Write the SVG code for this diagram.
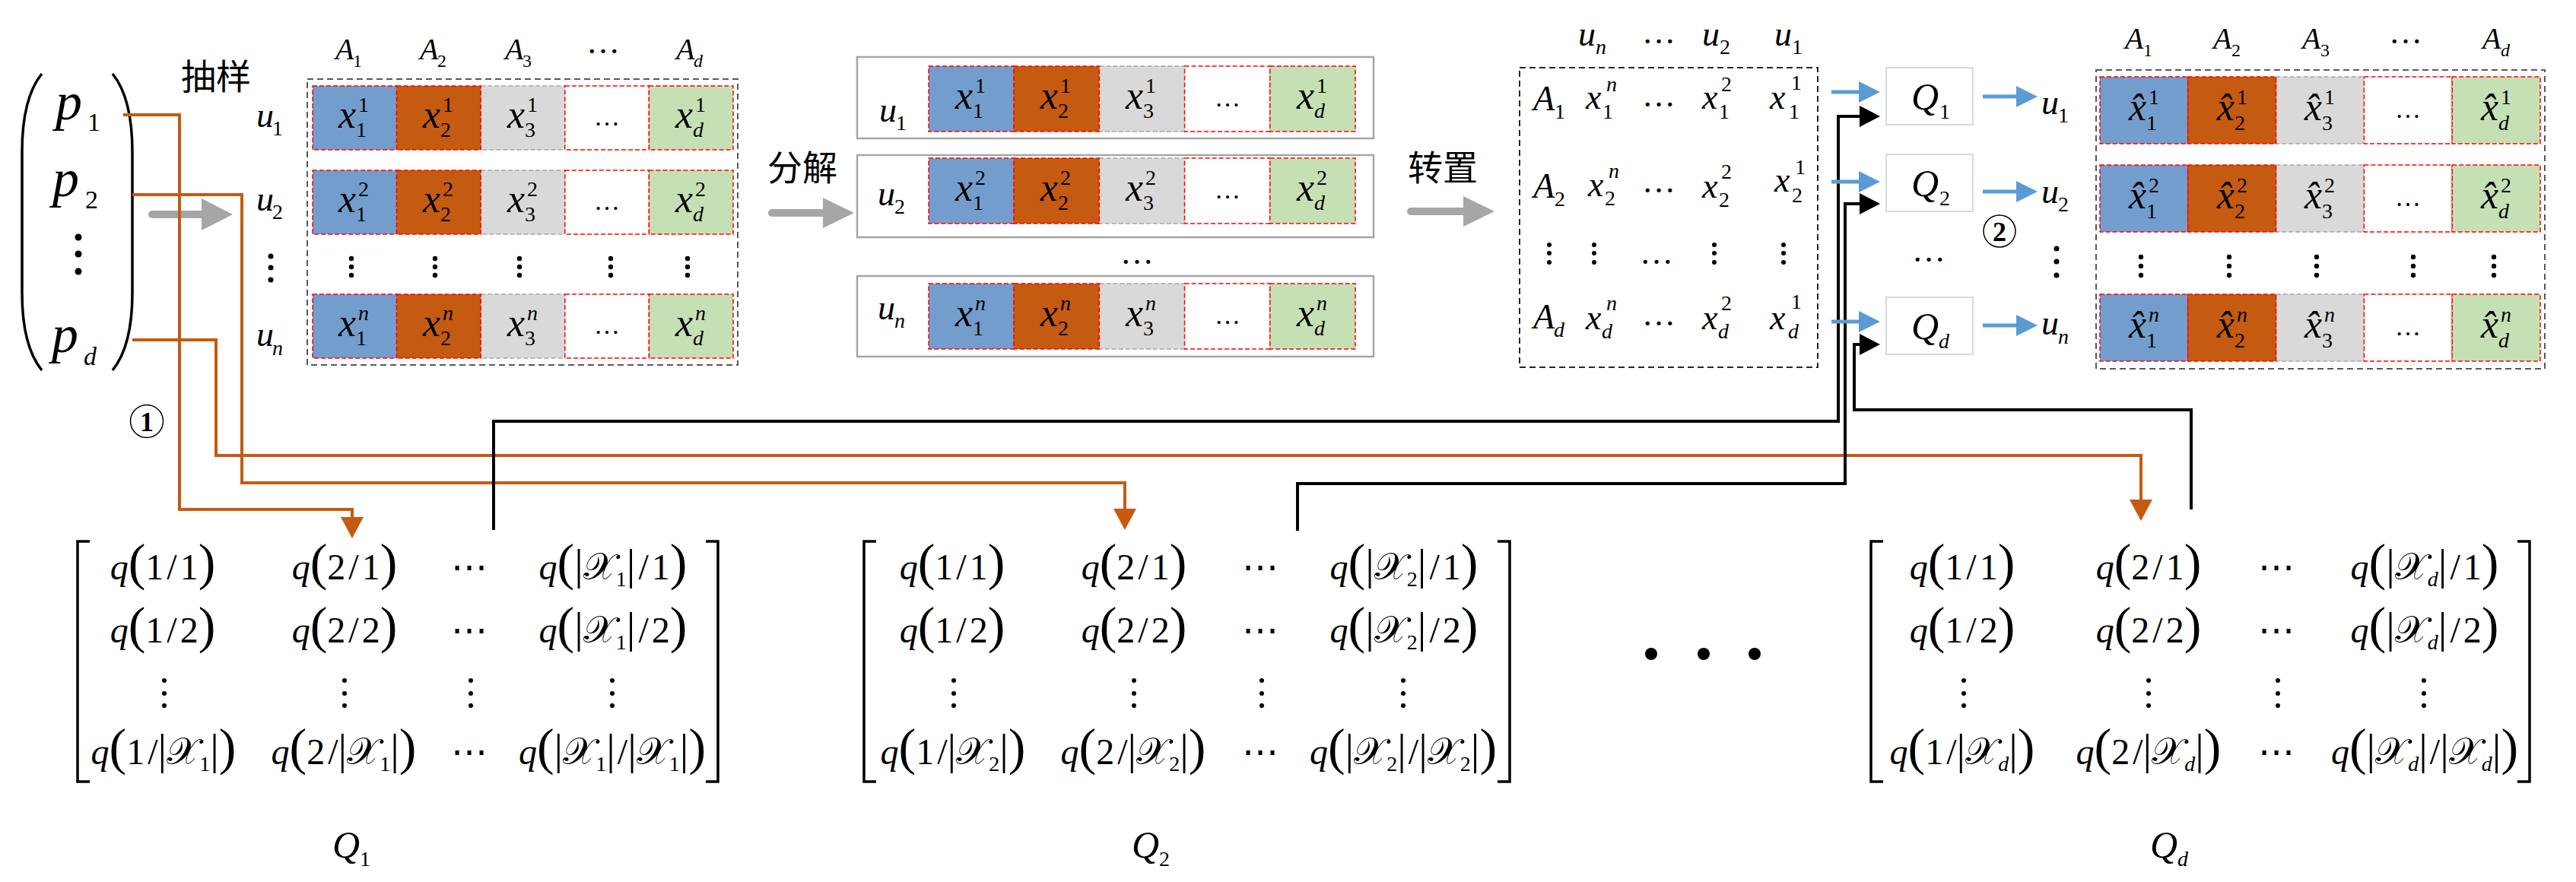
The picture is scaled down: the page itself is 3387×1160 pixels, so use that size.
<svg xmlns="http://www.w3.org/2000/svg" width="3387" height="1160" viewBox="0 0 3387 1160">
<style>
text{font-family:"Liberation Serif","Times New Roman",serif;fill:#000}
.i{font-style:italic}
.cjk{font-family:"Noto Sans CJK SC","Noto Sans CJK JP",sans-serif;font-size:46px}
.v{font-size:52px;font-style:italic}
.v2{font-size:46px;font-style:italic}
.s{font-size:28px}
.si{font-size:28px;font-style:italic}
.u{font-size:46px;font-style:italic}
.hd{font-size:40px;font-style:italic}
.hs{font-size:24px}
.hsi{font-size:24px;font-style:italic}
.el{font-size:34px;text-anchor:middle}
.el2{font-size:44px;text-anchor:middle}
.cb{fill:#739DCD;stroke:#FF0000;stroke-width:1.5;stroke-dasharray:6 3}
.co{fill:#C55A11;stroke:#FF0000;stroke-width:1.5;stroke-dasharray:6 3}
.cg{fill:#D9D9D9;stroke:#A6A6A6;stroke-width:1.5;stroke-dasharray:6 3}
.cw{fill:#FFFFFF;stroke:#FF0000;stroke-width:1.5;stroke-dasharray:6 3}
.cn{fill:#C5E0B4;stroke:#FF0000;stroke-width:1.5;stroke-dasharray:6 3}
.ob{fill:none;stroke:#595959;stroke-width:2;stroke-dasharray:8 5}
.ob2{fill:none;stroke:#262626;stroke-width:2;stroke-dasharray:8 5}
.gb{fill:#FFFFFF;stroke:#A6A6A6;stroke-width:2.5}
.qb{fill:#FFFFFF;stroke:#D9D9D9;stroke-width:2}
.qi{font-size:50px;font-style:italic}
.m{font-size:48px;text-anchor:middle}
.pa{font-size:68px}
.br{font-size:58px}
.sx{font-size:50px;font-family:"DejaVu Serif","DejaVu Sans","Noto Sans",serif}
.sb{font-size:28px}
.sbi{font-size:28px;font-style:italic}
.bk{fill:none;stroke:#000;stroke-width:3.5}
.lo{fill:none;stroke:#C55A11;stroke-width:4}
.lk{fill:none;stroke:#000;stroke-width:4}
.lb{fill:none;stroke:#5B9BD5;stroke-width:5}
.ga{fill:none;stroke:#A6A6A6;stroke-width:10;stroke-linecap:round}
.gh{fill:#A6A6A6}
.circ{fill:none;stroke:#000;stroke-width:1.5}
.num{font-size:36px;font-weight:bold;text-anchor:middle}
</style>
<defs>
<marker id="ao" markerUnits="userSpaceOnUse" markerWidth="28" markerHeight="30" refX="1" refY="15" orient="auto" viewBox="0 0 28 30"><path d="M0,0L28,15L0,30z" fill="#C55A11"/></marker>
<marker id="ab" markerUnits="userSpaceOnUse" markerWidth="28" markerHeight="28" refX="1" refY="14" orient="auto" viewBox="0 0 28 28"><path d="M0,0L28,14L0,28z" fill="#5B9BD5"/></marker>
<marker id="ak" markerUnits="userSpaceOnUse" markerWidth="27" markerHeight="28" refX="1" refY="14" orient="auto" viewBox="0 0 27 28"><path d="M0,0L27,14L0,28z" fill="#000"/></marker>
</defs>

<!-- input vector p -->
<g id="vector-p">
<path class="bk" d="M55 97 C38 118 29 150 29 200 V385 C29 435 38 466 55 487"/>
<path class="bk" d="M148 97 C165 118 174 150 174 200 V385 C174 435 165 466 148 487"/>
<text><tspan class="i" font-size="70" x="73" y="157">p</tspan><tspan font-size="34" x="115" y="172">1</tspan></text>
<text><tspan class="i" font-size="70" x="69" y="258">p</tspan><tspan font-size="34" x="112" y="274">2</tspan></text>
<circle cx="103" cy="312" r="4.5"/><circle cx="103" cy="334" r="4.5"/><circle cx="103" cy="357" r="4.5"/>
<text><tspan class="i" font-size="70" x="68" y="463">p</tspan><tspan class="i" font-size="34" x="110" y="480">d</tspan></text>
</g>

<g id="label-sampling"><text class="cjk" x="238" y="117">抽样</text></g>
<g id="label-decompose"><text class="cjk" x="1009" y="237">分解</text></g>
<g id="label-transpose"><text class="cjk" x="1851" y="237">转置</text></g>

<!-- matrix 1 -->
<g id="matrix-sampled">
<rect class="ob" x="404" y="104" width="566" height="376"/>
<text><tspan class="hd" x="441" y="78">A</tspan><tspan class="hs" x="464" y="88">1</tspan></text>
<text><tspan class="hd" x="552" y="78">A</tspan><tspan class="hs" x="575" y="88">2</tspan></text>
<text><tspan class="hd" x="664" y="78">A</tspan><tspan class="hs" x="687" y="88">3</tspan></text>
<text class="el2" x="793" y="70" font-size="40">…</text>
<text><tspan class="hd" x="889" y="78">A</tspan><tspan class="hsi" x="912" y="88">d</tspan></text>
<text><tspan class="u" x="337" y="167">u</tspan><tspan class="s" x="358" y="178">1</tspan></text>
<text><tspan class="u" x="337" y="277">u</tspan><tspan class="s" x="358" y="288">2</tspan></text>
<circle cx="356" cy="337" r="3.5"/><circle cx="356" cy="352" r="3.5"/><circle cx="356" cy="368" r="3.5"/>
<text><tspan class="u" x="337" y="455">u</tspan><tspan class="si" x="358" y="467">n</tspan></text>
<rect class="cg" x="632.2" y="113" width="110.6" height="84"/>
<rect class="cb" x="411" y="113" width="110.6" height="84"/>
<rect class="co" x="521.6" y="113" width="110.6" height="84"/>
<rect class="cw" x="742.8" y="113" width="110.6" height="84"/>
<rect class="cn" x="853.4" y="113" width="110.6" height="84"/>
<text><tspan class="v" x="445" y="168">x</tspan><tspan class="s" x="471" y="147">1</tspan><tspan class="s" x="468" y="180">1</tspan></text>
<text><tspan class="v" x="556" y="168">x</tspan><tspan class="s" x="582" y="147">1</tspan><tspan class="s" x="579" y="180">2</tspan></text>
<text><tspan class="v" x="667" y="168">x</tspan><tspan class="s" x="693" y="147">1</tspan><tspan class="s" x="690" y="180">3</tspan></text>
<text class="el" x="798" y="165">…</text>
<text><tspan class="v" x="888" y="168">x</tspan><tspan class="s" x="914" y="147">1</tspan><tspan class="si" x="911" y="180">d</tspan></text>
<rect class="cg" x="632.2" y="224" width="110.6" height="84"/>
<rect class="cb" x="411" y="224" width="110.6" height="84"/>
<rect class="co" x="521.6" y="224" width="110.6" height="84"/>
<rect class="cw" x="742.8" y="224" width="110.6" height="84"/>
<rect class="cn" x="853.4" y="224" width="110.6" height="84"/>
<text><tspan class="v" x="445" y="279">x</tspan><tspan class="s" x="471" y="258">2</tspan><tspan class="s" x="468" y="291">1</tspan></text>
<text><tspan class="v" x="556" y="279">x</tspan><tspan class="s" x="582" y="258">2</tspan><tspan class="s" x="579" y="291">2</tspan></text>
<text><tspan class="v" x="667" y="279">x</tspan><tspan class="s" x="693" y="258">2</tspan><tspan class="s" x="690" y="291">3</tspan></text>
<text class="el" x="798" y="276">…</text>
<text><tspan class="v" x="888" y="279">x</tspan><tspan class="s" x="914" y="258">2</tspan><tspan class="si" x="911" y="291">d</tspan></text>
<circle cx="462" cy="340" r="3.2"/><circle cx="462" cy="351" r="3.2"/><circle cx="462" cy="362" r="3.2"/>
<circle cx="572" cy="340" r="3.2"/><circle cx="572" cy="351" r="3.2"/><circle cx="572" cy="362" r="3.2"/>
<circle cx="683" cy="340" r="3.2"/><circle cx="683" cy="351" r="3.2"/><circle cx="683" cy="362" r="3.2"/>
<circle cx="803" cy="340" r="3.2"/><circle cx="803" cy="351" r="3.2"/><circle cx="803" cy="362" r="3.2"/>
<circle cx="904" cy="340" r="3.2"/><circle cx="904" cy="351" r="3.2"/><circle cx="904" cy="362" r="3.2"/>
<rect class="cg" x="632.2" y="387" width="110.6" height="84"/>
<rect class="cb" x="411" y="387" width="110.6" height="84"/>
<rect class="co" x="521.6" y="387" width="110.6" height="84"/>
<rect class="cw" x="742.8" y="387" width="110.6" height="84"/>
<rect class="cn" x="853.4" y="387" width="110.6" height="84"/>
<text><tspan class="v" x="445" y="442">x</tspan><tspan class="si" x="471" y="421">n</tspan><tspan class="s" x="468" y="454">1</tspan></text>
<text><tspan class="v" x="556" y="442">x</tspan><tspan class="si" x="582" y="421">n</tspan><tspan class="s" x="579" y="454">2</tspan></text>
<text><tspan class="v" x="667" y="442">x</tspan><tspan class="si" x="693" y="421">n</tspan><tspan class="s" x="690" y="454">3</tspan></text>
<text class="el" x="798" y="439">…</text>
<text><tspan class="v" x="888" y="442">x</tspan><tspan class="si" x="914" y="421">n</tspan><tspan class="si" x="911" y="454">d</tspan></text>
</g>

<!-- decomposed rows -->
<g id="row-u1">
<rect class="gb" x="1127" y="75" width="679" height="107"/>
<text><tspan class="u" x="1156" y="160">u</tspan><tspan class="s" x="1178" y="171">1</tspan></text>
<rect class="cg" x="1445.4" y="87" width="112.2" height="86"/>
<rect class="cb" x="1221" y="87" width="112.2" height="86"/>
<rect class="co" x="1333.2" y="87" width="112.2" height="86"/>
<rect class="cw" x="1557.6" y="87" width="112.2" height="86"/>
<rect class="cn" x="1669.8" y="87" width="112.2" height="86"/>
<text><tspan class="v" x="1256" y="143">x</tspan><tspan class="s" x="1282" y="122">1</tspan><tspan class="s" x="1279" y="155">1</tspan></text>
<text><tspan class="v" x="1368" y="143">x</tspan><tspan class="s" x="1394" y="122">1</tspan><tspan class="s" x="1391" y="155">2</tspan></text>
<text><tspan class="v" x="1480" y="143">x</tspan><tspan class="s" x="1506" y="122">1</tspan><tspan class="s" x="1503" y="155">3</tspan></text>
<text class="el" x="1614" y="140">…</text>
<text><tspan class="v" x="1705" y="143">x</tspan><tspan class="s" x="1731" y="122">1</tspan><tspan class="si" x="1728" y="155">d</tspan></text>
</g>
<g id="row-u2">
<rect class="gb" x="1127" y="204" width="679" height="108"/>
<text><tspan class="u" x="1154" y="270">u</tspan><tspan class="s" x="1176" y="281">2</tspan></text>
<rect class="cg" x="1445.4" y="208" width="112.2" height="86"/>
<rect class="cb" x="1221" y="208" width="112.2" height="86"/>
<rect class="co" x="1333.2" y="208" width="112.2" height="86"/>
<rect class="cw" x="1557.6" y="208" width="112.2" height="86"/>
<rect class="cn" x="1669.8" y="208" width="112.2" height="86"/>
<text><tspan class="v" x="1256" y="264">x</tspan><tspan class="s" x="1282" y="243">2</tspan><tspan class="s" x="1279" y="276">1</tspan></text>
<text><tspan class="v" x="1368" y="264">x</tspan><tspan class="s" x="1394" y="243">2</tspan><tspan class="s" x="1391" y="276">2</tspan></text>
<text><tspan class="v" x="1480" y="264">x</tspan><tspan class="s" x="1506" y="243">2</tspan><tspan class="s" x="1503" y="276">3</tspan></text>
<text class="el" x="1614" y="261">…</text>
<text><tspan class="v" x="1705" y="264">x</tspan><tspan class="s" x="1731" y="243">2</tspan><tspan class="si" x="1728" y="276">d</tspan></text>
</g>
<text class="el2" x="1495" y="347" font-size="46">…</text>
<g id="row-un">
<rect class="gb" x="1127" y="363" width="679" height="106"/>
<text><tspan class="u" x="1154" y="420">u</tspan><tspan class="si" x="1176" y="431">n</tspan></text>
<rect class="cg" x="1445.4" y="373" width="112.2" height="86"/>
<rect class="cb" x="1221" y="373" width="112.2" height="86"/>
<rect class="co" x="1333.2" y="373" width="112.2" height="86"/>
<rect class="cw" x="1557.6" y="373" width="112.2" height="86"/>
<rect class="cn" x="1669.8" y="373" width="112.2" height="86"/>
<text><tspan class="v" x="1256" y="429">x</tspan><tspan class="si" x="1282" y="408">n</tspan><tspan class="s" x="1279" y="441">1</tspan></text>
<text><tspan class="v" x="1368" y="429">x</tspan><tspan class="si" x="1394" y="408">n</tspan><tspan class="s" x="1391" y="441">2</tspan></text>
<text><tspan class="v" x="1480" y="429">x</tspan><tspan class="si" x="1506" y="408">n</tspan><tspan class="s" x="1503" y="441">3</tspan></text>
<text class="el" x="1614" y="426">…</text>
<text><tspan class="v" x="1705" y="429">x</tspan><tspan class="si" x="1731" y="408">n</tspan><tspan class="si" x="1728" y="441">d</tspan></text>
</g>

<!-- transposed matrix -->
<g id="matrix-transposed">
<rect class="ob2" x="1998" y="89" width="392" height="394"/>
<text><tspan class="u" x="2075" y="60">u</tspan><tspan class="si" x="2098" y="71">n</tspan></text>
<text class="el2" x="2181" y="57">…</text>
<text><tspan class="u" x="2238" y="60">u</tspan><tspan class="s" x="2261" y="71">2</tspan></text>
<text><tspan class="u" x="2333" y="60">u</tspan><tspan class="s" x="2356" y="71">1</tspan></text>
<text><tspan class="v2" x="2016" y="145">A</tspan><tspan class="s" x="2044" y="156">1</tspan></text>
<text><tspan class="v2" x="2085" y="143">x</tspan><tspan class="si" x="2112" y="120">n</tspan><tspan class="s" x="2107" y="156">1</tspan></text>
<text class="el2" x="2181" y="140">…</text>
<text><tspan class="v2" x="2238" y="143">x</tspan><tspan class="s" x="2263" y="120">2</tspan><tspan class="s" x="2260" y="156">1</tspan></text>
<text><tspan class="v2" x="2327" y="143">x</tspan><tspan class="s" x="2355" y="118">1</tspan><tspan class="s" x="2352" y="156">1</tspan></text>
<text><tspan class="v2" x="2016" y="260">A</tspan><tspan class="s" x="2044" y="271">2</tspan></text>
<text><tspan class="v2" x="2088" y="258">x</tspan><tspan class="si" x="2115" y="234">n</tspan><tspan class="s" x="2110" y="270">2</tspan></text>
<text class="el2" x="2181" y="253">…</text>
<text><tspan class="v2" x="2238" y="260">x</tspan><tspan class="s" x="2263" y="235">2</tspan><tspan class="s" x="2260" y="272">2</tspan></text>
<text><tspan class="v2" x="2333" y="252">x</tspan><tspan class="s" x="2360" y="229">1</tspan><tspan class="s" x="2356" y="266">2</tspan></text>
<circle cx="2037" cy="322" r="3"/><circle cx="2037" cy="333" r="3"/><circle cx="2037" cy="345" r="3"/>
<circle cx="2096" cy="322" r="3"/><circle cx="2096" cy="333" r="3"/><circle cx="2096" cy="345" r="3"/>
<text class="el2" x="2178" y="347">…</text>
<circle cx="2254" cy="322" r="3"/><circle cx="2254" cy="333" r="3"/><circle cx="2254" cy="345" r="3"/>
<circle cx="2345" cy="322" r="3"/><circle cx="2345" cy="333" r="3"/><circle cx="2345" cy="345" r="3"/>
<text><tspan class="v2" x="2016" y="432">A</tspan><tspan class="si" x="2043" y="443">d</tspan></text>
<text><tspan class="v2" x="2085" y="433">x</tspan><tspan class="si" x="2112" y="408">n</tspan><tspan class="si" x="2106" y="445">d</tspan></text>
<text class="el2" x="2181" y="428">…</text>
<text><tspan class="v2" x="2238" y="433">x</tspan><tspan class="s" x="2263" y="408">2</tspan><tspan class="si" x="2259" y="445">d</tspan></text>
<text><tspan class="v2" x="2327" y="433">x</tspan><tspan class="s" x="2355" y="406">1</tspan><tspan class="si" x="2351" y="445">d</tspan></text>
</g>

<!-- Q boxes -->
<g id="box-Q1"><rect class="qb" x="2480" y="89" width="114" height="75"/><text><tspan class="qi" x="2513" y="144">Q</tspan><tspan class="s" x="2550" y="156">1</tspan></text></g>
<g id="box-Q2"><rect class="qb" x="2480" y="203" width="114" height="75"/><text><tspan class="qi" x="2513" y="258">Q</tspan><tspan class="s" x="2550" y="270">2</tspan></text></g>
<text class="el2" x="2536" y="344">…</text>
<g id="box-Qd"><rect class="qb" x="2480" y="391" width="114" height="75"/><text><tspan class="qi" x="2513" y="446">Q</tspan><tspan class="si" x="2549" y="458">d</tspan></text></g>

<g id="out-labels">
<text><tspan class="u" x="2684" y="150">u</tspan><tspan class="s" x="2706" y="161">1</tspan></text>
<text><tspan class="u" x="2684" y="267">u</tspan><tspan class="s" x="2706" y="278">2</tspan></text>
<circle cx="2704" cy="327" r="3.5"/><circle cx="2704" cy="344" r="3.5"/><circle cx="2704" cy="362" r="3.5"/>
<text><tspan class="u" x="2684" y="440">u</tspan><tspan class="si" x="2706" y="452">n</tspan></text>
</g>
<g id="step-2"><circle class="circ" cx="2629" cy="304" r="21"/><text class="num" x="2629" y="317">2</text></g>
<g id="step-1"><circle class="circ" cx="193" cy="554" r="21.5"/><text class="num" x="193" y="567">1</text></g>

<!-- output matrix -->
<g id="matrix-output">
<rect class="ob" x="2756" y="92" width="590" height="393"/>
<text><tspan class="hd" x="2794" y="64">A</tspan><tspan class="hs" x="2818" y="74">1</tspan></text>
<text><tspan class="hd" x="2910" y="64">A</tspan><tspan class="hs" x="2934" y="74">2</tspan></text>
<text><tspan class="hd" x="3027" y="64">A</tspan><tspan class="hs" x="3051" y="74">3</tspan></text>
<text class="el2" x="3163" y="57" font-size="40">…</text>
<text><tspan class="hd" x="3264" y="64">A</tspan><tspan class="hsi" x="3288" y="74">d</tspan></text>
<rect class="cg" x="2992.6" y="101" width="115.8" height="88"/>
<rect class="cb" x="2761" y="101" width="115.8" height="88"/>
<rect class="co" x="2876.8" y="101" width="115.8" height="88"/>
<rect class="cw" x="3108.4" y="101" width="115.8" height="88"/>
<rect class="cn" x="3224.2" y="101" width="115.8" height="88"/>
<text><tspan class="v" x="2799" y="158">x̂</tspan><tspan class="s" x="2825" y="137">1</tspan><tspan class="s" x="2822" y="171">1</tspan></text>
<text><tspan class="v" x="2915" y="158">x̂</tspan><tspan class="s" x="2941" y="137">1</tspan><tspan class="s" x="2938" y="171">2</tspan></text>
<text><tspan class="v" x="3030" y="158">x̂</tspan><tspan class="s" x="3056" y="137">1</tspan><tspan class="s" x="3053" y="171">3</tspan></text>
<text class="el" x="3166" y="155">…</text>
<text><tspan class="v" x="3262" y="158">x̂</tspan><tspan class="s" x="3288" y="137">1</tspan><tspan class="si" x="3285" y="171">d</tspan></text>
<rect class="cg" x="2992.6" y="217" width="115.8" height="88"/>
<rect class="cb" x="2761" y="217" width="115.8" height="88"/>
<rect class="co" x="2876.8" y="217" width="115.8" height="88"/>
<rect class="cw" x="3108.4" y="217" width="115.8" height="88"/>
<rect class="cn" x="3224.2" y="217" width="115.8" height="88"/>
<text><tspan class="v" x="2799" y="274">x̂</tspan><tspan class="s" x="2825" y="253">2</tspan><tspan class="s" x="2822" y="287">1</tspan></text>
<text><tspan class="v" x="2915" y="274">x̂</tspan><tspan class="s" x="2941" y="253">2</tspan><tspan class="s" x="2938" y="287">2</tspan></text>
<text><tspan class="v" x="3030" y="274">x̂</tspan><tspan class="s" x="3056" y="253">2</tspan><tspan class="s" x="3053" y="287">3</tspan></text>
<text class="el" x="3166" y="271">…</text>
<text><tspan class="v" x="3262" y="274">x̂</tspan><tspan class="s" x="3288" y="253">2</tspan><tspan class="si" x="3285" y="287">d</tspan></text>
<circle cx="2815" cy="338" r="3.2"/><circle cx="2815" cy="350" r="3.2"/><circle cx="2815" cy="362" r="3.2"/>
<circle cx="2931" cy="338" r="3.2"/><circle cx="2931" cy="350" r="3.2"/><circle cx="2931" cy="362" r="3.2"/>
<circle cx="3046" cy="338" r="3.2"/><circle cx="3046" cy="350" r="3.2"/><circle cx="3046" cy="362" r="3.2"/>
<circle cx="3173" cy="338" r="3.2"/><circle cx="3173" cy="350" r="3.2"/><circle cx="3173" cy="362" r="3.2"/>
<circle cx="3279" cy="338" r="3.2"/><circle cx="3279" cy="350" r="3.2"/><circle cx="3279" cy="362" r="3.2"/>
<rect class="cg" x="2992.6" y="387" width="115.8" height="88"/>
<rect class="cb" x="2761" y="387" width="115.8" height="88"/>
<rect class="co" x="2876.8" y="387" width="115.8" height="88"/>
<rect class="cw" x="3108.4" y="387" width="115.8" height="88"/>
<rect class="cn" x="3224.2" y="387" width="115.8" height="88"/>
<text><tspan class="v" x="2799" y="444">x̂</tspan><tspan class="si" x="2825" y="423">n</tspan><tspan class="s" x="2822" y="457">1</tspan></text>
<text><tspan class="v" x="2915" y="444">x̂</tspan><tspan class="si" x="2941" y="423">n</tspan><tspan class="s" x="2938" y="457">2</tspan></text>
<text><tspan class="v" x="3030" y="444">x̂</tspan><tspan class="si" x="3056" y="423">n</tspan><tspan class="s" x="3053" y="457">3</tspan></text>
<text class="el" x="3166" y="441">…</text>
<text><tspan class="v" x="3262" y="444">x̂</tspan><tspan class="si" x="3288" y="423">n</tspan><tspan class="si" x="3285" y="457">d</tspan></text>
</g>

<!-- bottom matrices -->
<g id="matrix-Q1">
<path class="bk" d="M118 712 H102 V1028 H118"/>
<path class="bk" d="M928 712 H944 V1028 H928"/>
<text class="m" x="214" y="762"><tspan class="i">q</tspan><tspan class="pa">(</tspan>1<tspan dx="4">/</tspan><tspan dx="4">1</tspan><tspan class="pa">)</tspan></text>
<text class="m" x="453" y="762"><tspan class="i">q</tspan><tspan class="pa">(</tspan>2<tspan dx="4">/</tspan><tspan dx="4">1</tspan><tspan class="pa">)</tspan></text>
<text class="m" x="617" y="762">⋯</text>
<text class="m" x="806" y="762"><tspan class="i">q</tspan><tspan class="pa">(</tspan><tspan class="br">|</tspan><tspan class="sx">𝒳</tspan><tspan class="sb" dy="9">1</tspan><tspan class="br" dy="-9">|</tspan><tspan dx="4">/</tspan><tspan dx="4">1</tspan><tspan class="pa">)</tspan></text>
<text class="m" x="214" y="845"><tspan class="i">q</tspan><tspan class="pa">(</tspan>1<tspan dx="4">/</tspan><tspan dx="4">2</tspan><tspan class="pa">)</tspan></text>
<text class="m" x="453" y="845"><tspan class="i">q</tspan><tspan class="pa">(</tspan>2<tspan dx="4">/</tspan><tspan dx="4">2</tspan><tspan class="pa">)</tspan></text>
<text class="m" x="617" y="845">⋯</text>
<text class="m" x="806" y="845"><tspan class="i">q</tspan><tspan class="pa">(</tspan><tspan class="br">|</tspan><tspan class="sx">𝒳</tspan><tspan class="sb" dy="9">1</tspan><tspan class="br" dy="-9">|</tspan><tspan dx="4">/</tspan><tspan dx="4">2</tspan><tspan class="pa">)</tspan></text>
<circle cx="216" cy="895" r="3"/><circle cx="216" cy="912" r="3"/><circle cx="216" cy="928" r="3"/>
<circle cx="453" cy="895" r="3"/><circle cx="453" cy="912" r="3"/><circle cx="453" cy="928" r="3"/>
<circle cx="619" cy="895" r="3"/><circle cx="619" cy="912" r="3"/><circle cx="619" cy="928" r="3"/>
<circle cx="805" cy="895" r="3"/><circle cx="805" cy="912" r="3"/><circle cx="805" cy="928" r="3"/>
<text class="m" x="215" y="1005"><tspan class="i">q</tspan><tspan class="pa">(</tspan>1<tspan dx="4">/</tspan><tspan class="br">|</tspan><tspan class="sx">𝒳</tspan><tspan class="sb" dy="9">1</tspan><tspan class="br" dy="-9">|</tspan><tspan class="pa">)</tspan></text>
<text class="m" x="452" y="1005"><tspan class="i">q</tspan><tspan class="pa">(</tspan>2<tspan dx="4">/</tspan><tspan class="br">|</tspan><tspan class="sx">𝒳</tspan><tspan class="sb" dy="9">1</tspan><tspan class="br" dy="-9">|</tspan><tspan class="pa">)</tspan></text>
<text class="m" x="617" y="1005">⋯</text>
<text class="m" x="805" y="1005"><tspan class="i">q</tspan><tspan class="pa">(</tspan><tspan class="br">|</tspan><tspan class="sx">𝒳</tspan><tspan class="sb" dy="9">1</tspan><tspan class="br" dy="-9">|</tspan><tspan dx="3">/</tspan><tspan class="br">|</tspan><tspan class="sx">𝒳</tspan><tspan class="sb" dy="9">1</tspan><tspan class="br" dy="-9">|</tspan><tspan class="pa">)</tspan></text>
<text x="462" y="1128" text-anchor="middle"><tspan class="qi">Q</tspan><tspan class="s" dy="11">1</tspan></text>
</g>

<g id="matrix-Q2">
<path class="bk" d="M1152 712 H1136 V1028 H1152"/>
<path class="bk" d="M1969 712 H1985 V1028 H1969"/>
<text class="m" x="1252" y="762"><tspan class="i">q</tspan><tspan class="pa">(</tspan>1<tspan dx="4">/</tspan><tspan dx="4">1</tspan><tspan class="pa">)</tspan></text>
<text class="m" x="1491" y="762"><tspan class="i">q</tspan><tspan class="pa">(</tspan>2<tspan dx="4">/</tspan><tspan dx="4">1</tspan><tspan class="pa">)</tspan></text>
<text class="m" x="1657" y="762">⋯</text>
<text class="m" x="1846" y="762"><tspan class="i">q</tspan><tspan class="pa">(</tspan><tspan class="br">|</tspan><tspan class="sx">𝒳</tspan><tspan class="sb" dy="9">2</tspan><tspan class="br" dy="-9">|</tspan><tspan dx="4">/</tspan><tspan dx="4">1</tspan><tspan class="pa">)</tspan></text>
<text class="m" x="1252" y="845"><tspan class="i">q</tspan><tspan class="pa">(</tspan>1<tspan dx="4">/</tspan><tspan dx="4">2</tspan><tspan class="pa">)</tspan></text>
<text class="m" x="1491" y="845"><tspan class="i">q</tspan><tspan class="pa">(</tspan>2<tspan dx="4">/</tspan><tspan dx="4">2</tspan><tspan class="pa">)</tspan></text>
<text class="m" x="1657" y="845">⋯</text>
<text class="m" x="1846" y="845"><tspan class="i">q</tspan><tspan class="pa">(</tspan><tspan class="br">|</tspan><tspan class="sx">𝒳</tspan><tspan class="sb" dy="9">2</tspan><tspan class="br" dy="-9">|</tspan><tspan dx="4">/</tspan><tspan dx="4">2</tspan><tspan class="pa">)</tspan></text>
<circle cx="1254" cy="895" r="3"/><circle cx="1254" cy="912" r="3"/><circle cx="1254" cy="928" r="3"/>
<circle cx="1491" cy="895" r="3"/><circle cx="1491" cy="912" r="3"/><circle cx="1491" cy="928" r="3"/>
<circle cx="1659" cy="895" r="3"/><circle cx="1659" cy="912" r="3"/><circle cx="1659" cy="928" r="3"/>
<circle cx="1845" cy="895" r="3"/><circle cx="1845" cy="912" r="3"/><circle cx="1845" cy="928" r="3"/>
<text class="m" x="1253" y="1005"><tspan class="i">q</tspan><tspan class="pa">(</tspan>1<tspan dx="4">/</tspan><tspan class="br">|</tspan><tspan class="sx">𝒳</tspan><tspan class="sb" dy="9">2</tspan><tspan class="br" dy="-9">|</tspan><tspan class="pa">)</tspan></text>
<text class="m" x="1490" y="1005"><tspan class="i">q</tspan><tspan class="pa">(</tspan>2<tspan dx="4">/</tspan><tspan class="br">|</tspan><tspan class="sx">𝒳</tspan><tspan class="sb" dy="9">2</tspan><tspan class="br" dy="-9">|</tspan><tspan class="pa">)</tspan></text>
<text class="m" x="1657" y="1005">⋯</text>
<text class="m" x="1845" y="1005"><tspan class="i">q</tspan><tspan class="pa">(</tspan><tspan class="br">|</tspan><tspan class="sx">𝒳</tspan><tspan class="sb" dy="9">2</tspan><tspan class="br" dy="-9">|</tspan><tspan dx="3">/</tspan><tspan class="br">|</tspan><tspan class="sx">𝒳</tspan><tspan class="sb" dy="9">2</tspan><tspan class="br" dy="-9">|</tspan><tspan class="pa">)</tspan></text>
<text x="1513" y="1128" text-anchor="middle"><tspan class="qi">Q</tspan><tspan class="s" dy="11">2</tspan></text>
</g>

<g id="ellipsis-bottom"><circle cx="2171" cy="860" r="8"/><circle cx="2240" cy="860" r="8"/><circle cx="2307" cy="860" r="8"/></g>

<g id="matrix-Qd">
<path class="bk" d="M2476 712 H2460 V1028 H2476"/>
<path class="bk" d="M3310 712 H3326 V1028 H3310"/>
<text class="m" x="2580" y="762"><tspan class="i">q</tspan><tspan class="pa">(</tspan>1<tspan dx="4">/</tspan><tspan dx="4">1</tspan><tspan class="pa">)</tspan></text>
<text class="m" x="2825" y="762"><tspan class="i">q</tspan><tspan class="pa">(</tspan>2<tspan dx="4">/</tspan><tspan dx="4">1</tspan><tspan class="pa">)</tspan></text>
<text class="m" x="2993" y="762">⋯</text>
<text class="m" x="3188" y="762"><tspan class="i">q</tspan><tspan class="pa">(</tspan><tspan class="br">|</tspan><tspan class="sx">𝒳</tspan><tspan class="sbi" dy="9">d</tspan><tspan class="br" dy="-9">|</tspan><tspan dx="4">/</tspan><tspan dx="4">1</tspan><tspan class="pa">)</tspan></text>
<text class="m" x="2580" y="845"><tspan class="i">q</tspan><tspan class="pa">(</tspan>1<tspan dx="4">/</tspan><tspan dx="4">2</tspan><tspan class="pa">)</tspan></text>
<text class="m" x="2825" y="845"><tspan class="i">q</tspan><tspan class="pa">(</tspan>2<tspan dx="4">/</tspan><tspan dx="4">2</tspan><tspan class="pa">)</tspan></text>
<text class="m" x="2993" y="845">⋯</text>
<text class="m" x="3188" y="845"><tspan class="i">q</tspan><tspan class="pa">(</tspan><tspan class="br">|</tspan><tspan class="sx">𝒳</tspan><tspan class="sbi" dy="9">d</tspan><tspan class="br" dy="-9">|</tspan><tspan dx="4">/</tspan><tspan dx="4">2</tspan><tspan class="pa">)</tspan></text>
<circle cx="2582" cy="895" r="3"/><circle cx="2582" cy="912" r="3"/><circle cx="2582" cy="928" r="3"/>
<circle cx="2825" cy="895" r="3"/><circle cx="2825" cy="912" r="3"/><circle cx="2825" cy="928" r="3"/>
<circle cx="2995" cy="895" r="3"/><circle cx="2995" cy="912" r="3"/><circle cx="2995" cy="928" r="3"/>
<circle cx="3187" cy="895" r="3"/><circle cx="3187" cy="912" r="3"/><circle cx="3187" cy="928" r="3"/>
<text class="m" x="2580" y="1005"><tspan class="i">q</tspan><tspan class="pa">(</tspan>1<tspan dx="4">/</tspan><tspan class="br">|</tspan><tspan class="sx">𝒳</tspan><tspan class="sbi" dy="9">d</tspan><tspan class="br" dy="-9">|</tspan><tspan class="pa">)</tspan></text>
<text class="m" x="2825" y="1005"><tspan class="i">q</tspan><tspan class="pa">(</tspan>2<tspan dx="4">/</tspan><tspan class="br">|</tspan><tspan class="sx">𝒳</tspan><tspan class="sbi" dy="9">d</tspan><tspan class="br" dy="-9">|</tspan><tspan class="pa">)</tspan></text>
<text class="m" x="2993" y="1005">⋯</text>
<text class="m" x="3188" y="1005"><tspan class="i">q</tspan><tspan class="pa">(</tspan><tspan class="br">|</tspan><tspan class="sx">𝒳</tspan><tspan class="sbi" dy="9">d</tspan><tspan class="br" dy="-9">|</tspan><tspan dx="3">/</tspan><tspan class="br">|</tspan><tspan class="sx">𝒳</tspan><tspan class="sbi" dy="9">d</tspan><tspan class="br" dy="-9">|</tspan><tspan class="pa">)</tspan></text>
<text x="2852" y="1128" text-anchor="middle"><tspan class="qi">Q</tspan><tspan class="si" dy="11">d</tspan></text>
</g>

<!-- connectors -->
<g id="connectors">
<path class="ga" d="M200 282 H266"/><path class="gh" d="M265 261 L306 282 L265 303z"/>
<path class="ga" d="M1015 280 H1083"/><path class="gh" d="M1082 260 L1123 280 L1082 300z"/>
<path class="ga" d="M1855 278 H1925"/><path class="gh" d="M1924 258 L1965 278 L1924 298z"/>
<path class="lo" d="M162 151 H236 V670 H463 V681" marker-end="url(#ao)"/>
<path class="lo" d="M174 256 H318 V635 H1479 V670" marker-end="url(#ao)"/>
<path class="lo" d="M174 447 H284 V599 H2815 V658" marker-end="url(#ao)"/>
<path class="lk" d="M649 697 V554 H2417 V153 H2446" marker-end="url(#ak)"/>
<path class="lk" d="M1706 698 V636 H2426 V268 H2446" marker-end="url(#ak)"/>
<path class="lk" d="M2881 670 V539 H2438 V453 H2446" marker-end="url(#ak)"/>
<path class="lb" d="M2408 121 H2445" marker-end="url(#ab)"/>
<path class="lb" d="M2408 239 H2445" marker-end="url(#ab)"/>
<path class="lb" d="M2408 423 H2445" marker-end="url(#ab)"/>
<path class="lb" d="M2607 127 H2652" marker-end="url(#ab)"/>
<path class="lb" d="M2607 252 H2652" marker-end="url(#ab)"/>
<path class="lb" d="M2607 428 H2652" marker-end="url(#ab)"/>
</g>
</svg>
